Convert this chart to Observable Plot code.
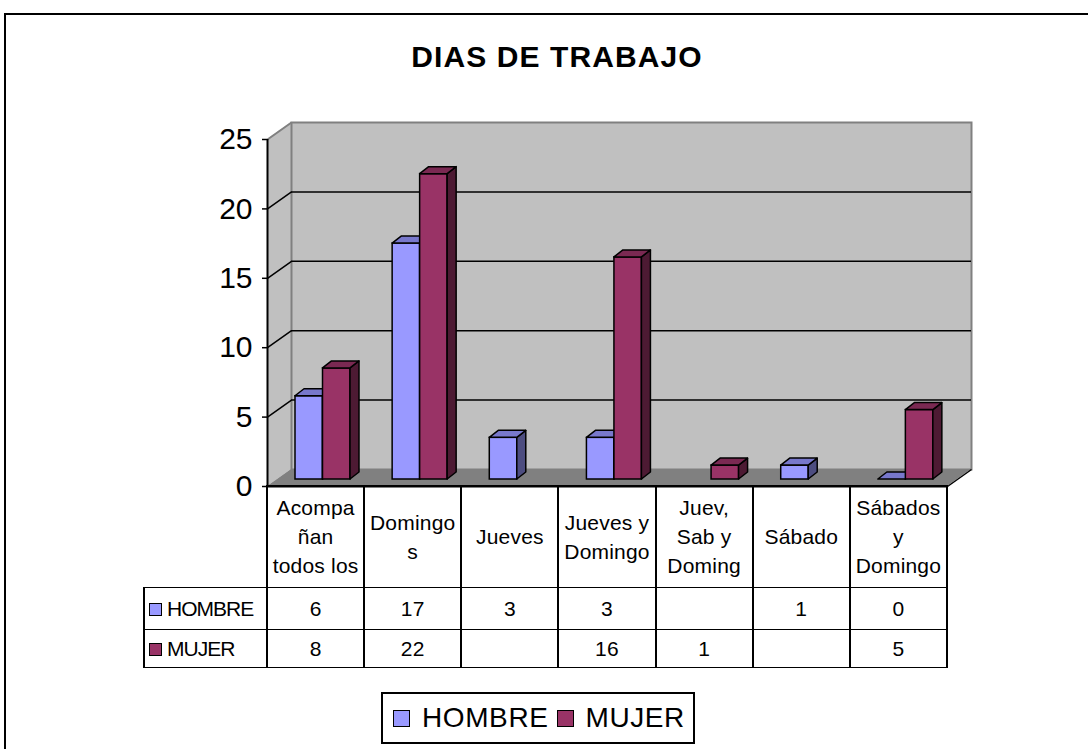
<!DOCTYPE html>
<html>
<head>
<meta charset="utf-8">
<script src="https://cdn.jsdelivr.net/npm/d3@7"></script>
<script src="https://cdn.jsdelivr.net/npm/@observablehq/plot@0.6"></script>
<style>
  html, body { margin: 0; padding: 0; width: 1088px; height: 749px; overflow: hidden; background: #fff; }
  body { position: relative; font-family: "Liberation Sans", Arial, sans-serif; color: #000; }
  #border { position: absolute; left: 4px; top: 13px; width: 1200px; height: 900px; border: 2px solid #000; box-sizing: border-box; }
  #title { position: absolute; left: 0; top: 42px; width: 1114px; text-align: center; font-weight: bold; font-size: 30px; line-height: 30px; letter-spacing: 1.1px; }
  #chart { position: absolute; left: 0; top: 0; }
  #table { position: absolute; left: 143px; top: 485px; border-collapse: collapse; table-layout: fixed; font-size: 21px; letter-spacing: 0.2px; }
  #table td { padding: 0; text-align: center; vertical-align: middle; border-left: 2px solid #000; border-right: 2px solid #000; border-top: 1px solid #000; border-bottom: 1px solid #000; }
  #table td.empty { border: none; }
  #table td.lab { text-align: left; padding-left: 4px; white-space: nowrap; letter-spacing: -1px; }
  #table td.head { line-height: 29px; }
  .sq { display: inline-block; width: 11px; height: 11px; border: 1px solid #000; margin-right: 5px; vertical-align: 0px; }
  #legend { position: absolute; left: 381px; top: 692px; width: 314px; height: 52px; border: 2px solid #000; box-sizing: border-box; display: flex; align-items: center; padding-left: 10px; font-size: 28px; letter-spacing: 0.6px; }
  #legend .key { display: inline-block; width: 15px; height: 15px; border: 1px solid #000; }
</style>
</head>
<body>
<div id="border"></div>
<div id="title">DIAS DE TRABAJO</div>
<div id="chart"></div>
<table id="table"></table>
<div id="legend"></div>
<script>
// ---- data ----
const categories = ["Acompañan todos los", "Domingos", "Jueves", "Jueves y Domingo", "Juev, Sab y Doming", "Sábado", "Sábados y Domingo"];
const categoryLines = [["Acompa", "ñan", "todos los"], ["Domingo", "s"], ["Jueves"], ["Jueves y", "Domingo"], ["Juev,", "Sab y", "Doming"], ["Sábado"], ["Sábados", "y", "Domingo"]];
const series = ["HOMBRE", "MUJER"];
const hombre = [6, 17, 3, 3, null, 1, 0];
const mujer = [8, 22, null, 16, 1, null, 5];
const yTicks = [0, 5, 10, 15, 20, 25];

// ---- styles ----
const colors = {
  HOMBRE: {front: "#9999FF", top: "#7878CC", side: "#4D4D80"},
  MUJER: {front: "#993366", top: "#7A2952", side: "#4D1A33"}
};
const W = 1088, H = 500, mL = 267, mR = 141, mT = 139, mB = 14;
const nCat = categories.length;
const yMax = 25;
const wallDepth = [24, -17];   // pixel offset of the back wall
const barShift = -7;           // bars sit slightly behind the front edge
const barDepth = [9, -7];
const colW = (W - mL - mR) / nCat;
const dX = wallDepth[0] * nCat / (W - mL - mR);
const dY = -wallDepth[1] * yMax / (H - mT - mB);

const rows = (vals, name) => vals.map((v, i) => ({cat: categories[i], i, value: v, serie: name})).filter(d => d.value != null);
const hData = rows(hombre, "HOMBRE");
const mData = rows(mujer, "MUJER");

function extrude(ddx, ddy, topFill, sideFill) {
  return function (index, scales, values, dimensions, context, next) {
    const g = next(index, scales, values, dimensions, context);
    const ns = "http://www.w3.org/2000/svg";
    for (const r of Array.from(g.querySelectorAll("rect"))) {
      const x = +r.getAttribute("x"), y = +r.getAttribute("y");
      const w = +r.getAttribute("width"), h = +(r.getAttribute("height") || 0);
      const side = document.createElementNS(ns, "polygon");
      side.setAttribute("points", `${x + w},${y} ${x + w + ddx},${y + ddy} ${x + w + ddx},${y + h + ddy} ${x + w},${y + h}`);
      side.setAttribute("fill", sideFill);
      const top = document.createElementNS(ns, "polygon");
      top.setAttribute("points", `${x},${y} ${x + w},${y} ${x + w + ddx},${y + ddy} ${x + ddx},${y + ddy}`);
      top.setAttribute("fill", topFill);
      for (const p of [side, top]) { p.setAttribute("stroke", "#000"); p.setAttribute("stroke-width", 1.5); p.setAttribute("stroke-linejoin", "round"); }
      g.appendChild(side);
      g.appendChild(top);
    }
    return g;
  };
}

function barMark(data, name, insetL, insetR) {
  const c = colors[name];
  return Plot.rect(data, {
    x1: d => d.i, x2: d => d.i + 1, y1: 0, y2: "value",
    insetLeft: insetL, insetRight: insetR, dy: barShift,
    fill: c.front, stroke: "#000", strokeWidth: 1.5,
    render: extrude(barDepth[0], barDepth[1], c.top, c.side)
  });
}

const chart = Plot.plot({
  width: W, height: H,
  marginLeft: mL, marginRight: mR, marginTop: mT, marginBottom: mB,
  x: {domain: [0, nCat], axis: null, label: null},
  y: {domain: [0, yMax], axis: null, label: null},
  style: {fontFamily: '"Liberation Sans", Arial, sans-serif', color: "#000", background: "transparent", overflow: "visible"},
  marks: [
    // left wall
    Plot.areaY([0, 1], {x: t => t * dX, y1: t => t * dY, y2: t => yMax + t * dY, fill: "#C0C0C0"}),
    // back wall
    Plot.frame({fill: "#C0C0C0", stroke: "#808080", strokeWidth: 2, dx: wallDepth[0], dy: wallDepth[1]}),
    Plot.link([yMax], {x1: 0, y1: d => d, x2: dX, y2: d => d + dY, stroke: "#808080", strokeWidth: 2}),
    // floor
    Plot.areaX([0, 1], {y: t => t * dY, x1: t => t * dX, x2: t => nCat + t * dX, fill: "#808080"}),
    // gridlines
    Plot.ruleY(yTicks.filter(t => t > 0 && t < yMax), {dx: wallDepth[0], dy: wallDepth[1], stroke: "#000", strokeWidth: 1.5}),
    Plot.link(yTicks.filter(t => t > 0 && t < yMax), {x1: 0, y1: d => d, x2: dX, y2: d => d + dY, stroke: "#000", strokeWidth: 1.5}),
    // axes lines
    Plot.ruleX([0], {y1: 0, y2: yMax, stroke: "#000", strokeWidth: 2}),
    Plot.ruleY([0], {x1: 0, x2: nCat, stroke: "#000", strokeWidth: 2}),
    Plot.link([0], {x1: nCat, y1: 0, x2: nCat + dX, y2: dY, stroke: "#000", strokeWidth: 1.5}),
    Plot.axisY(yTicks, {tickSize: 5, tickPadding: 10, fontSize: 30, strokeWidth: 1.5, label: null, tickFormat: d => String(d)}),
    // bars
    barMark(hData, "HOMBRE", 28, colW - 55.5),
    barMark(mData, "MUJER", 55.5, colW - 83)
  ]
});
document.getElementById("chart").appendChild(chart);

// ---- data table ----
const table = document.getElementById("table");
const colgroup = document.createElement("colgroup");
const c0 = document.createElement("col"); c0.style.width = "123px"; colgroup.appendChild(c0);
for (let i = 0; i < nCat; i++) { const c = document.createElement("col"); c.style.width = colW + "px"; colgroup.appendChild(c); }
table.appendChild(colgroup);
table.style.width = (123 + colW * nCat) + "px";

const head = document.createElement("tr");
head.style.height = "102px";
const e = document.createElement("td"); e.className = "empty"; head.appendChild(e);
categoryLines.forEach(lines => {
  const td = document.createElement("td"); td.className = "head";
  td.innerHTML = lines.join("<br>");
  head.appendChild(td);
});
table.appendChild(head);

[[hombre, "HOMBRE", "42px"], [mujer, "MUJER", "38px"]].forEach(([vals, name, h]) => {
  const tr = document.createElement("tr");
  tr.style.height = h;
  const lab = document.createElement("td"); lab.className = "lab";
  lab.innerHTML = `<span class="sq" style="background:${colors[name].front}"></span>${name}`;
  tr.appendChild(lab);
  vals.forEach(v => {
    const td = document.createElement("td");
    td.textContent = v == null ? "" : String(v);
    tr.appendChild(td);
  });
  table.appendChild(tr);
});

// ---- legend ----
const legend = document.getElementById("legend");
series.forEach((name, k) => {
  const key = document.createElement("span"); key.className = "key";
  key.style.background = colors[name].front;
  key.style.marginLeft = k === 0 ? "0px" : "8px";
  key.style.marginRight = "12px";
  const t = document.createElement("span"); t.textContent = name;
  legend.appendChild(key); legend.appendChild(t);
});
</script>
</body>
</html>
